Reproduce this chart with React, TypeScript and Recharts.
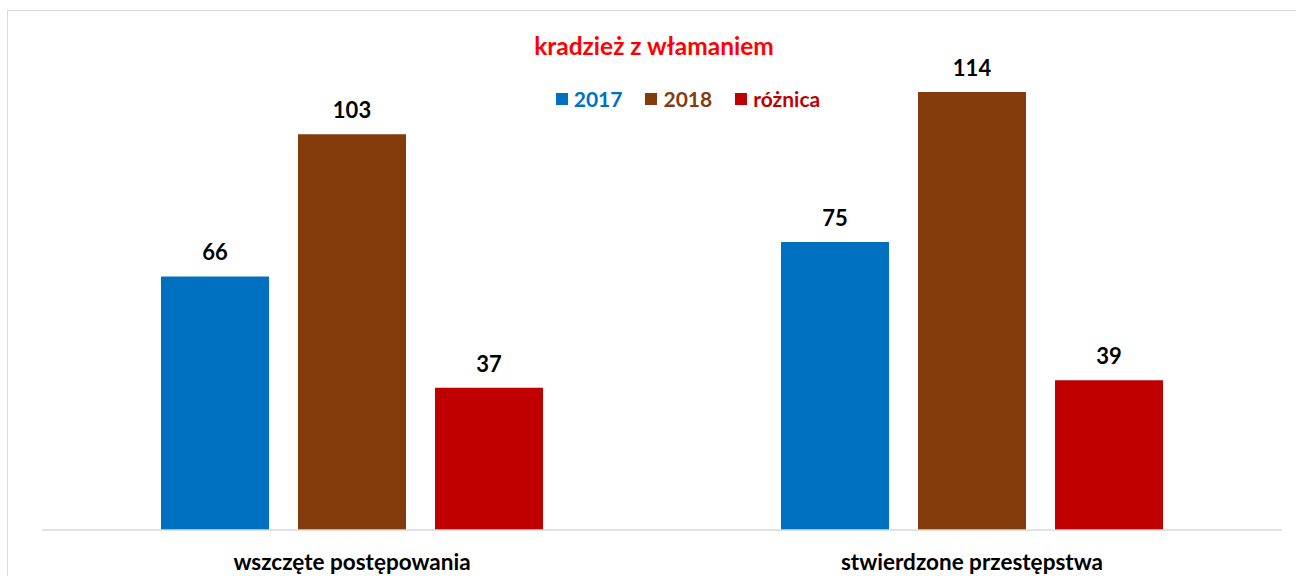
import React from "react";
import { BarChart, Bar, XAxis, YAxis, LabelList } from "recharts";

const categories = ["wszczęte postępowania", "stwierdzone przestępstwa"];
const values2017 = [66, 75];
const values2018 = [103, 114];
const diff = [37, 39];

const seriesNames = ["2017", "2018", "różnica"];
const colors = ["#0070C0", "#843C0C", "#C00000"];

const data = categories.map((c, i) => ({
  name: c,
  y2017: values2017[i],
  y2018: values2018[i],
  diff: diff[i],
}));

const FONT = "Lato, 'Open Sans', sans-serif";

function CategoryTick(props: any) {
  const { x, y, payload } = props;
  return (
    <text
      x={x}
      y={y + 23}
      textAnchor="middle"
      dominantBaseline="central"
      fontFamily={FONT}
      fontWeight="bold"
      fontSize={22.5}
      fill="#000"
    >
      {payload.value}
    </text>
  );
}

function LegendBox() {
  return (
    <div
      style={{
        position: "absolute",
        top: 86,
        left: 0,
        width: 1296,
        display: "flex",
        justifyContent: "center",
        fontFamily: FONT,
        fontWeight: "bold",
        fontSize: 21,
        paddingLeft: 80,
        boxSizing: "border-box",
      }}
    >
      {seriesNames.map((n, i) => (
        <div key={n} style={{ display: "flex", alignItems: "center", marginRight: i < 2 ? 23 : 0 }}>
          <span
            style={{
              width: 12,
              height: 12,
              background: colors[i],
              display: "inline-block",
              marginRight: 6,
            }}
          />
          <span style={{ color: colors[i] }}>{n}</span>
        </div>
      ))}
    </div>
  );
}

export default function App() {
  return (
    <div
      style={{
        position: "fixed",
        left: 0,
        top: 0,
        width: 1296,
        height: 576,
        overflow: "hidden",
        background: "#fff",
      }}
    >
      <div
        style={{
          position: "absolute",
          left: 7,
          top: 10,
          width: 1400,
          height: 700,
          border: "1.5px solid #d9d9d9",
        }}
      />
      <div
        style={{
          position: "absolute",
          top: 31,
          left: 0,
          width: 1296,
          textAlign: "center",
          paddingLeft: 12,
          boxSizing: "border-box",
          fontFamily: FONT,
          fontWeight: "bold",
          fontSize: 24.5,
          color: "#FF0000",
        }}
      >
        kradzież z włamaniem
      </div>
      <LegendBox />
      <div style={{ position: "absolute", left: 0, top: 0 }}>
        <BarChart
          width={1296}
          height={576}
          data={data}
          margin={{ top: 69, right: 14, left: 42, bottom: 0 }}
          barCategoryGap={119}
          barGap={29}
        >
          <XAxis
            dataKey="name"
            height={46}
            axisLine={{ stroke: "#d9d9d9", strokeWidth: 1.5 }}
            tickLine={false}
            tick={<CategoryTick />}
            interval={0}
          />
          <YAxis hide domain={[0, 120]} />
          <Bar dataKey="y2017" fill={colors[0]} isAnimationActive={false}>
            <LabelList dataKey="y2017" position="top" offset={16} fill="#000" fontFamily={FONT} fontWeight="bold" fontSize={22} />
          </Bar>
          <Bar dataKey="y2018" fill={colors[1]} isAnimationActive={false}>
            <LabelList dataKey="y2018" position="top" offset={16} fill="#000" fontFamily={FONT} fontWeight="bold" fontSize={22} />
          </Bar>
          <Bar dataKey="diff" fill={colors[2]} isAnimationActive={false}>
            <LabelList dataKey="diff" position="top" offset={16} fill="#000" fontFamily={FONT} fontWeight="bold" fontSize={22} />
          </Bar>
        </BarChart>
      </div>
    </div>
  );
}
